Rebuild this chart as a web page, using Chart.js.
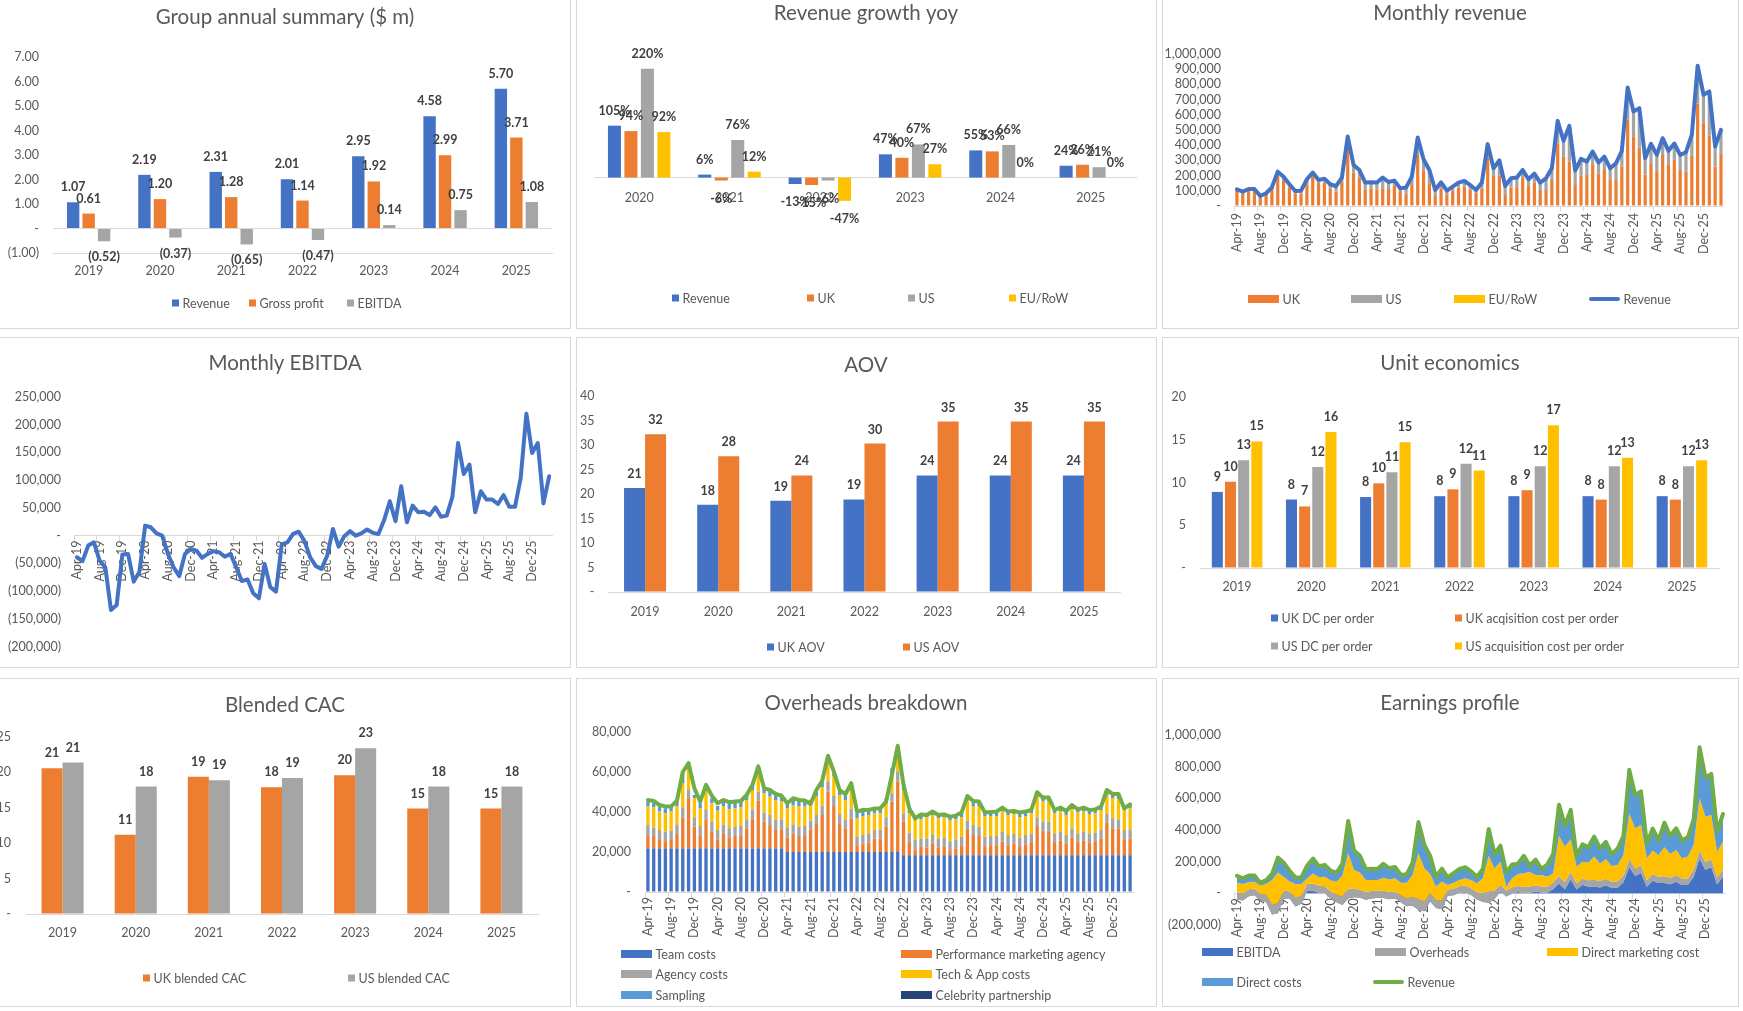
<!DOCTYPE html>
<html>
<head>
<meta charset="utf-8">
<title>Dashboard</title>
<script src="https://cdn.jsdelivr.net/npm/chart.js@4.4.1/dist/chart.umd.min.js"></script>
<style>
  html, body { margin: 0; padding: 0; background: #fff; }
  body { width: 1743px; height: 1011px; position: relative; overflow: hidden; }
  .frame { position: absolute; border: 1px solid #d9d9d9; box-sizing: border-box; }
  canvas { position: absolute; }
</style>
</head>
<body>
<script>
// ---- data ----
const years = ['2019', '2020', '2021', '2022', '2023', '2024', '2025'];
const growthYears = ['2020', '2021', '2022', '2023', '2024', '2025'];

const summaryRevenue = [1.07, 2.19, 2.31, 2.01, 2.95, 4.58, 5.70];
const summaryGross = [0.61, 1.20, 1.28, 1.14, 1.92, 2.99, 3.71];
const summaryEbitda = [-0.52, -0.37, -0.65, -0.47, 0.14, 0.75, 1.08];

const growthRevenue = [105, 6, -13, 47, 55, 24];
const growthUK = [94, -6, -15, 40, 53, 26];
const growthUS = [220, 76, -6, 67, 66, 21];
const growthEU = [92, 12, -47, 27, 0, 0];

const ukAov = [21.2, 17.8, 18.6, 18.9, 23.8, 23.8, 23.8];
const usAov = [32.2, 27.7, 23.8, 30.3, 34.8, 34.8, 34.8];

const ukDcPerOrder = [8.9, 8.0, 8.3, 8.4, 8.4, 8.4, 8.4];
const ukAcqPerOrder = [10.1, 7.2, 9.9, 9.2, 9.1, 8.0, 8.0];
const usDcPerOrder = [12.6, 11.8, 11.2, 12.2, 11.9, 11.9, 11.9];
const usAcqPerOrder = [14.8, 15.9, 14.7, 11.4, 16.7, 12.9, 12.6];

const ukCac = [20.6, 11.2, 19.4, 17.9, 19.6, 14.9, 14.9];
const usCac = [21.4, 18.0, 18.9, 19.2, 23.4, 18.0, 18.0];

const months = [
  'Apr-19','May-19','Jun-19','Jul-19','Aug-19','Sep-19','Oct-19','Nov-19','Dec-19','Jan-20','Feb-20','Mar-20',
  'Apr-20','May-20','Jun-20','Jul-20','Aug-20','Sep-20','Oct-20','Nov-20','Dec-20','Jan-21','Feb-21','Mar-21',
  'Apr-21','May-21','Jun-21','Jul-21','Aug-21','Sep-21','Oct-21','Nov-21','Dec-21','Jan-22','Feb-22','Mar-22',
  'Apr-22','May-22','Jun-22','Jul-22','Aug-22','Sep-22','Oct-22','Nov-22','Dec-22','Jan-23','Feb-23','Mar-23',
  'Apr-23','May-23','Jun-23','Jul-23','Aug-23','Sep-23','Oct-23','Nov-23','Dec-23','Jan-24','Feb-24','Mar-24',
  'Apr-24','May-24','Jun-24','Jul-24','Aug-24','Sep-24','Oct-24','Nov-24','Dec-24','Jan-25','Feb-25','Mar-25',
  'Apr-25','May-25','Jun-25','Jul-25','Aug-25','Sep-25','Oct-25','Nov-25','Dec-25','Jan-26','Feb-26','Mar-26'];

const monthlyRevenue = [
  110000, 95000, 112000, 112000, 66000, 84000, 123000, 226000, 193000, 143000, 99000, 101000,
  176000, 220000, 171000, 180000, 143000, 130000, 187000, 457000, 270000, 237000, 154000, 156000,
  154000, 187000, 158000, 167000, 116000, 121000, 193000, 451000, 308000, 237000, 105000, 156000,
  101000, 127000, 154000, 165000, 138000, 105000, 154000, 407000, 248000, 301000, 132000, 182000,
  187000, 237000, 176000, 213000, 154000, 182000, 248000, 560000, 429000, 527000, 233000, 310000,
  292000, 358000, 286000, 325000, 248000, 281000, 363000, 780000, 622000, 644000, 314000, 409000,
  336000, 446000, 363000, 411000, 336000, 354000, 468000, 923000, 732000, 754000, 391000, 501000];

const revenueUK = [
  101000, 79000, 101000, 101000, 55000, 73000, 110000, 200000, 165000, 121000, 84000, 81000,
  143000, 196000, 154000, 154000, 112000, 95000, 160000, 380000, 220000, 187000, 110000, 116000,
  110000, 116000, 112000, 134000, 101000, 77000, 143000, 336000, 231000, 150000, 66000, 116000,
  73000, 101000, 121000, 127000, 110000, 86000, 116000, 319000, 198000, 198000, 73000, 121000,
  123000, 187000, 132000, 154000, 105000, 105000, 171000, 411000, 323000, 292000, 138000, 198000,
  204000, 275000, 211000, 237000, 176000, 171000, 259000, 567000, 459000, 385000, 207000, 277000,
  231000, 336000, 270000, 303000, 237000, 226000, 330000, 673000, 549000, 462000, 259000, 343000];

const revenueUS = [
  9000, 16000, 11000, 11000, 11000, 11000, 13000, 26000, 28000, 22000, 15000, 20000,
  33000, 24000, 17000, 26000, 31000, 35000, 27000, 77000, 50000, 50000, 44000, 40000,
  44000, 71000, 46000, 33000, 15000, 44000, 50000, 115000, 77000, 87000, 39000, 40000,
  28000, 26000, 33000, 38000, 28000, 19000, 38000, 88000, 50000, 103000, 59000, 61000,
  64000, 50000, 44000, 59000, 49000, 77000, 77000, 149000, 106000, 235000, 95000, 112000,
  88000, 83000, 75000, 88000, 72000, 110000, 104000, 213000, 163000, 259000, 107000, 132000,
  105000, 110000, 93000, 108000, 99000, 128000, 138000, 250000, 183000, 292000, 132000, 158000];

const revenueEU = [
  1000, 1000, 1000, 1000, 1000, 1000, 1000, 2000, 1000, 1000, 1000, 1000,
  1000, 1000, 1000, 1000, 1000, 1000, 1000, 3000, 2000, 1000, 1000, 1000,
  1000, 1000, 1000, 1000, 1000, 1000, 1000, 3000, 2000, 1000, 1000, 1000,
  1000, 1000, 1000, 1000, 1000, 1000, 1000, 1000, 1000, 1000, 1000, 1000,
  1000, 1000, 1000, 1000, 1000, 1000, 1000, 2000, 1000, 1000, 1000, 1000,
  1000, 1000, 1000, 1000, 1000, 1000, 1000, 2000, 1000, 1000, 1000, 1000,
  1000, 1000, 1000, 1000, 1000, 1000, 1000, 2000, 1000, 1000, 1000, 1000];

const monthlyEbitda = [
  -39000, -46000, -18000, -12000, -45000, -57000, -134000, -125000, -34000, -33000, -83000, -65000,
  18000, 15000, 4000, 0, -33000, -57000, -73000, -33000, -24000, -27000, -40000, -33000,
  -28000, -30000, -38000, -33000, -57000, -82000, -79000, -104000, -113000, -51000, -93000, -101000,
  -16000, -12000, 3000, 7000, -10000, -39000, -55000, -60000, -36000, 12000, -20000, -1000,
  8000, 0, 4000, 11000, 5000, 3000, 28000, 62000, 26000, 89000, 24000, 54000,
  42000, 43000, 37000, 51000, 34000, 36000, 70000, 167000, 111000, 128000, 42000, 80000,
  65000, 65000, 57000, 73000, 52000, 52000, 104000, 220000, 149000, 167000, 58000, 107000];

const teamCosts = [
  21800, 21800, 21800, 21800, 21800, 21800, 21800, 21800, 21800, 21800, 21800, 21800,
  21800, 21800, 21800, 21800, 21800, 21800, 21800, 21800, 21800, 21800, 21800, 21800,
  20000, 20000, 20000, 20000, 20000, 20000, 20000, 20000, 20000, 20000, 20000, 20000,
  20000, 20000, 20000, 20000, 20000, 20000, 20000, 20000, 18400, 18400, 18400, 18400,
  18400, 18400, 18400, 18400, 18400, 18400, 18400, 18400, 18400, 18400, 18400, 18400,
  18400, 18400, 18400, 18400, 18400, 18400, 18400, 18400, 18400, 18400, 18400, 18400,
  18400, 18400, 18400, 18400, 18400, 18400, 18400, 18400, 18400, 18400, 18400, 18400];

const perfMarketingAgency = [
  6200, 6200, 4200, 3600, 4200, 7200, 15500, 25100, 10800, 6200, 14500, 8300,
  4500, 7200, 5500, 6200, 6200, 10000, 15000, 23900, 13400, 11700, 9200, 9500,
  7300, 9300, 8000, 8000, 11300, 14000, 18500, 30200, 23000, 14000, 11800, 16800,
  3400, 4300, 4600, 6800, 6800, 12600, 25200, 35200, 16800, 6700, 2900, 4200,
  3900, 5900, 3900, 4200, 2500, 3400, 4500, 12600, 10100, 9600, 4500, 5000,
  5000, 6700, 5000, 5900, 4500, 5500, 6700, 14600, 12200, 11700, 6700, 7200,
  5900, 8900, 6700, 7200, 6200, 6700, 8400, 16200, 13400, 13400, 7600, 8400];

const agencyCosts = [
  5500, 4300, 5000, 4700, 4600, 4800, 5100, 4500, 4700, 5000, 4700, 5100,
  4700, 4800, 4800, 4600, 5000, 4500, 4500, 4500, 4500, 5000, 5000, 5000,
  5000, 4500, 4600, 5000, 4400, 4500, 4500, 5000, 5000, 5000, 4500, 4900,
  4200, 4200, 4400, 4200, 4200, 4700, 4200, 5100, 4100, 4500, 5000, 4200,
  4500, 4200, 4500, 4700, 4500, 4500, 4700, 4700, 5000, 4600, 4700, 4600,
  4600, 5000, 5100, 4700, 4400, 4600, 4200, 4300, 4600, 5100, 4200, 4500,
  4200, 4500, 4200, 4500, 4700, 4500, 4500, 4400, 5000, 4500, 5000, 4500];

const techAppCosts = [
  9200, 10100, 9200, 9200, 9600, 9200, 12000, 10500, 9600, 8900, 9200, 9200,
  9700, 9200, 9200, 9300, 9400, 9700, 9700, 8400, 9700, 9200, 9700, 8900,
  9600, 9700, 10100, 9700, 8000, 9200, 9400, 10100, 9800, 9500, 9700, 9300,
  9200, 9500, 9500, 8300, 8300, 7900, 10000, 7500, 11700, 9700, 9700, 9500,
  10500, 10000, 10000, 10000, 10300, 10000, 9700, 10000, 9500, 10400, 10400, 10000,
  10000, 10100, 10000, 10000, 10000, 9500, 10000, 10400, 10000, 10000, 10000, 10100,
  10000, 9700, 10400, 10100, 9700, 9700, 9700, 9500, 10100, 10100, 10000, 10600];

const samplingCosts = [
  2500, 2000, 2500, 2600, 2200, 2700, 5000, 1700, 1600, 2500, 2500, 2500,
  2300, 2700, 2700, 2800, 2800, 2500, 2600, 3300, 2000, 2500, 2800, 2800,
  2800, 2500, 2500, 2500, 2500, 2500, 2800, 2500, 2500, 2200, 2500, 2600,
  2900, 2200, 2000, 2000, 2000, 1700, 2500, 4200, 2600, 1700, 2000, 2200,
  1200, 1700, 1700, 1700, 1600, 1700, 2000, 2000, 2500, 2200, 1700, 1700,
  2200, 1700, 1700, 1500, 2000, 2200, 1700, 2000, 2500, 2000, 1700, 1700,
  1700, 2000, 1600, 1700, 2000, 2000, 1700, 2200, 1600, 2100, 1400, 1600];

const celebrityPartnership = [
  0, 0, 0, 0, 0, 0, 0, 0, 0, 0, 0, 0,
  0, 0, 0, 0, 0, 0, 0, 0, 0, 0, 0, 0,
  0, 0, 0, 0, 0, 0, 0, 0, 0, 0, 0, 0,
  0, 0, 0, 0, 0, 0, 0, 0, 0, 0, 0, 0,
  0, 0, 0, 0, 0, 0, 0, 0, 0, 0, 0, 0,
  0, 0, 0, 0, 0, 0, 0, 0, 0, 0, 0, 0,
  0, 0, 0, 0, 0, 0, 0, 0, 0, 0, 0, 0];

const overheadTotal = [
  46000, 45500, 43500, 42800, 42800, 45700, 60000, 64400, 51900, 45200, 53600, 48200,
  44400, 46000, 44900, 45200, 45500, 48500, 53600, 62800, 51900, 51000, 49000, 48200,
  44400, 46900, 46000, 45700, 44000, 51000, 55600, 68100, 60300, 51000, 48900, 54400,
  40200, 41000, 41000, 41800, 41800, 45200, 58600, 73100, 53600, 41800, 36800, 38800,
  38500, 40200, 38500, 38800, 37700, 38200, 39800, 48000, 45500, 45200, 39700, 40000,
  40200, 42200, 40200, 40500, 39800, 40200, 41000, 49900, 47200, 47200, 41000, 42200,
  40500, 43500, 41300, 42200, 41000, 41300, 42700, 51000, 49000, 49000, 41800, 43800];

const directMarketing = [
  60000, 60000, 46500, 43000, 50000, 70000, 158000, 192000, 87000, 62000, 88000, 76000,
  33000, 65000, 52000, 60000, 68000, 81000, 131000, 223000, 119000, 107000, 75000, 69000,
  68000, 82000, 80000, 82000, 80000, 98000, 139000, 289000, 211000, 122000, 86000, 121000,
  29000, 38000, 40000, 46000, 52000, 57000, 91000, 223000, 140000, 146000, 25000, 57000,
  76000, 86000, 93000, 66000, 73000, 64000, 58000, 252000, 224000, 207000, 104000, 106000,
  112000, 147000, 112000, 124000, 99000, 103000, 131000, 288000, 253000, 257000, 138000, 147000,
  137000, 183000, 150000, 159000, 128000, 139000, 158000, 329000, 286000, 279000, 163000, 175000];

const directCosts = [
  43000, 36000, 40000, 38000, 18000, 25000, 39000, 95000, 88000, 69000, 40000, 42000,
  81000, 94000, 70000, 75000, 63000, 58000, 75000, 204000, 123000, 106000, 70000, 72000,
  70000, 88000, 70000, 72000, 49000, 54000, 77000, 198000, 150000, 115000, 63000, 82000,
  48000, 60000, 70000, 70000, 54000, 42000, 59000, 171000, 90000, 101000, 90000, 87000,
  65000, 111000, 41000, 97000, 38000, 77000, 122000, 198000, 134000, 186000, 65000, 110000,
  98000, 126000, 97000, 110000, 75000, 102000, 121000, 275000, 211000, 212000, 93000, 140000,
  94000, 155000, 115000, 137000, 115000, 122000, 163000, 323000, 248000, 259000, 128000, 175000];

// ---- styling ----
const BLUE = '#4472C4', ORANGE = '#ED7D31', GRAY = '#A5A5A5', GOLD = '#FFC000';
const LBLUE = '#5B9BD5', GREEN = '#70AD47', NAVY = '#264478';
const TXT = '#595959', LBL = '#404040', AXIS = '#D9D9D9', NONE = 'rgba(0,0,0,0)';
const FONT = 'Lato, "Open Sans", sans-serif';

Chart.defaults.font.family = FONT;
Chart.defaults.font.size = 12.5;
Chart.defaults.color = TXT;

const COLS = [0, 576, 1162], COLW = [570, 580, 576];
const ROWS = [0, 337, 678], ROWH = [328, 330, 328];

function panel(r, c) {
  const f = document.createElement('div');
  f.className = 'frame';
  const l = c === 0 ? -2 : COLS[c], t = r === 0 ? -2 : ROWS[r];
  f.style.left = l + 'px';
  f.style.top = t + 'px';
  f.style.width = (COLS[c] + COLW[c] - l + 1) + 'px';
  f.style.height = (ROWS[r] + ROWH[r] - t + 1) + 'px';
  document.body.appendChild(f);
  const cv = document.createElement('canvas');
  cv.width = COLW[c];
  cv.height = ROWH[r];
  cv.style.left = COLS[c] + 'px';
  cv.style.top = ROWS[r] + 'px';
  document.body.appendChild(cv);
  return cv;
}

// excel-ish number formats
const fmtMoney = v => v === 0 ? '-' : v < 0 ? '(' + Math.abs(v).toFixed(2) + ')' : v.toFixed(2);
const fmtThousands = v => v === 0 ? '-' : v < 0 ? '(' + Math.abs(v).toLocaleString('en-US') + ')' : v.toLocaleString('en-US');
const fmtInt = v => v === 0 ? '-' : String(v);
const fmtRound = v => String(Math.round(v));
const fmtPct = v => Math.round(v) + '%';

// title, legend and value labels drawn on the canvas
function decor(title, titleY, legend, labels) {
  return {
    id: 'decor',
    afterDatasetsDraw(chart) {
      if (!labels) return;
      const ctx = chart.ctx;
      ctx.save();
      ctx.font = 'bold 12.5px ' + FONT;
      ctx.fillStyle = LBL;
      ctx.textAlign = 'center';
      ctx.textBaseline = 'middle';
      chart.data.datasets.forEach((ds, i) => {
        chart.getDatasetMeta(i).data.forEach((el, j) => {
          const v = ds.data[j];
          ctx.fillText(labels.fmt(v), el.x, v < 0 ? el.y + labels.below : el.y - labels.above);
        });
      });
      ctx.restore();
    },
    afterDraw(chart) {
      const ctx = chart.ctx;
      ctx.save();
      ctx.fillStyle = TXT;
      ctx.font = '20.5px ' + FONT;
      ctx.textAlign = 'center';
      ctx.textBaseline = 'middle';
      ctx.fillText(title, chart.width / 2, titleY);
      ctx.font = '12.5px ' + FONT;
      ctx.textAlign = 'left';
      legend.forEach(it => {
        let w = 7;
        if (it.kind === 'line') {
          w = 31;
          ctx.strokeStyle = it.color;
          ctx.lineWidth = 4;
          ctx.lineCap = 'round';
          ctx.beginPath();
          ctx.moveTo(it.x + 2, it.y);
          ctx.lineTo(it.x + w - 2, it.y);
          ctx.stroke();
        } else if (it.kind === 'rect') {
          w = 31;
          ctx.fillStyle = it.color;
          ctx.fillRect(it.x, it.y - 4, w, 8);
        } else {
          ctx.fillStyle = it.color;
          ctx.fillRect(it.x, it.y - 3.5, 7, 7);
        }
        ctx.fillStyle = TXT;
        ctx.fillText(it.text, it.x + w + 3.5, it.y + 0.5);
      });
      ctx.restore();
    }
  };
}

function yLin(o) {
  return {
    display: o.display !== false,
    min: o.min, max: o.max,
    stacked: !!o.stacked,
    afterFit(s) { s.width = o.width; },
    border: { display: false },
    grid: { drawTicks: false, color: c => (o.zero && c.tick && c.tick.value === 0) ? AXIS : NONE },
    ticks: { stepSize: o.step, autoSkip: false, padding: o.pad, callback: o.fmt, color: TXT, font: { size: 12.5 } }
  };
}

function xYears(o) {
  const s = {
    offset: true,
    border: { display: true, color: AXIS },
    grid: { drawOnChartArea: false, drawTicks: false, color: NONE },
    ticks: { padding: o.pad, color: TXT, font: { size: 12.5 } }
  };
  if (o.atZero) s.position = { y: 0 };
  else s.afterFit = sc => { sc.height = o.height; };
  return s;
}

function xMonths(o) {
  const s = {
    offset: true,
    stacked: !!o.stacked,
    z: o.z || 0,
    border: { display: true, color: AXIS },
    grid: { offset: true, drawOnChartArea: false, drawTicks: true, tickLength: 5,
            color: c => c.index % 4 === 0 ? AXIS : NONE },
    ticks: { autoSkip: false, minRotation: 90, maxRotation: 90, padding: o.pad,
             color: TXT, font: { size: 12.5 },
             callback: (v, i) => i % 4 === 0 ? months[i] : '' }
  };
  if (o.atZero) s.position = { y: 0 };
  else s.afterFit = sc => { sc.height = o.height; };
  return s;
}

function opts(padding, scales) {
  return {
    responsive: false, animation: false, devicePixelRatio: 1, events: [],
    layout: { padding },
    plugins: { legend: { display: false }, title: { display: false }, tooltip: { enabled: false } },
    scales
  };
}

function bars(label, data, color, cat, bar, extra) {
  return Object.assign({ type: 'bar', label, data, backgroundColor: color, borderWidth: 0,
    categoryPercentage: cat, barPercentage: bar }, extra || {});
}

// 1. Group annual summary
new Chart(panel(0, 0), {
  type: 'bar',
  data: { labels: years, datasets: [
    bars('Revenue', summaryRevenue, BLUE, 0.652, 0.8),
    bars('Gross profit', summaryGross, ORANGE, 0.652, 0.8),
    bars('EBITDA', summaryEbitda, GRAY, 0.652, 0.8)
  ] },
  options: opts({ left: 0, top: 57, right: 18, bottom: 0 }, {
    x: xYears({ height: 75, pad: 10.5 }),
    y: yLin({ min: -1, max: 7, step: 1, width: 53, pad: 14, fmt: fmtMoney, zero: true })
  }),
  plugins: [decor('Group annual summary ($ m)', 17, [
    { text: 'Revenue', color: BLUE, x: 172, y: 303 },
    { text: 'Gross profit', color: ORANGE, x: 249, y: 303 },
    { text: 'EBITDA', color: GRAY, x: 347, y: 303 }
  ], { fmt: fmtMoney, above: 15, below: 16 })]
});

// 2. Revenue growth yoy
new Chart(panel(0, 1), {
  type: 'bar',
  data: { labels: growthYears, datasets: [
    bars('Revenue', growthRevenue, BLUE, 0.73, 0.79),
    bars('UK', growthUK, ORANGE, 0.73, 0.79),
    bars('US', growthUS, GRAY, 0.73, 0.79),
    bars('EU/RoW', growthEU, GOLD, 0.73, 0.79)
  ] },
  options: opts({ left: 18, top: 54, right: 20, bottom: 101 }, {
    x: xYears({ atZero: true, pad: 12.5 }),
    y: yLin({ display: false, min: -100, max: 250, step: 50, width: 0, pad: 0, fmt: fmtInt })
  }),
  plugins: [decor('Revenue growth yoy', 13, [
    { text: 'Revenue', color: BLUE, x: 96, y: 298 },
    { text: 'UK', color: ORANGE, x: 231, y: 298 },
    { text: 'US', color: GRAY, x: 332, y: 298 },
    { text: 'EU/RoW', color: GOLD, x: 433, y: 298 }
  ], { fmt: fmtPct, above: 15, below: 18 })]
});

// 3. Monthly revenue
new Chart(panel(0, 2), {
  type: 'bar',
  data: { labels: months, datasets: [
    bars('UK', revenueUK, ORANGE, 1, 0.55, { stack: 'split', order: 1 }),
    bars('US', revenueUS, GRAY, 1, 0.55, { stack: 'split', order: 1 }),
    bars('EU/RoW', revenueEU, GOLD, 1, 0.55, { stack: 'split', order: 1 }),
    { type: 'line', label: 'Revenue', data: monthlyRevenue, stack: 'total', order: 0,
      borderColor: BLUE, borderWidth: 4, pointRadius: 0, tension: 0,
      borderJoinStyle: 'round', borderCapStyle: 'round', fill: false }
  ] },
  options: opts({ left: 0, top: 54, right: 4, bottom: 0 }, {
    x: xMonths({ stacked: true, height: 122, pad: 2 }),
    y: yLin({ stacked: true, min: 0, max: 1000000, step: 100000, width: 72, pad: 13, fmt: fmtThousands })
  }),
  plugins: [decor('Monthly revenue', 13, [
    { text: 'UK', color: ORANGE, kind: 'rect', x: 86, y: 299 },
    { text: 'US', color: GRAY, kind: 'rect', x: 189, y: 299 },
    { text: 'EU/RoW', color: GOLD, kind: 'rect', x: 292, y: 299 },
    { text: 'Revenue', color: BLUE, kind: 'line', x: 427, y: 299 }
  ])]
});

// 4. Monthly EBITDA
new Chart(panel(1, 0), {
  type: 'line',
  data: { labels: months, datasets: [
    { label: 'EBITDA', data: monthlyEbitda, borderColor: BLUE, borderWidth: 4, pointRadius: 0,
      tension: 0, borderJoinStyle: 'round', borderCapStyle: 'round', fill: false }
  ] },
  options: opts({ left: 0, top: 60, right: 18, bottom: 18 }, {
    x: xMonths({ atZero: true, pad: 0 }),
    y: yLin({ min: -200000, max: 250000, step: 50000, width: 74, pad: 13, fmt: fmtThousands })
  }),
  plugins: [decor('Monthly EBITDA', 26, [])]
});

// 5. AOV
new Chart(panel(1, 1), {
  type: 'bar',
  data: { labels: years, datasets: [
    bars('UK AOV', ukAov, BLUE, 0.575, 1),
    bars('US AOV', usAov, ORANGE, 0.575, 1)
  ] },
  options: opts({ left: 0, top: 59, right: 35.5, bottom: 0 }, {
    x: xYears({ height: 75, pad: 12.5 }),
    y: yLin({ min: 0, max: 40, step: 5, width: 32.5, pad: 14, fmt: fmtInt })
  }),
  plugins: [decor('AOV', 28, [
    { text: 'UK AOV', color: BLUE, x: 191, y: 310 },
    { text: 'US AOV', color: ORANGE, x: 327, y: 310 }
  ], { fmt: fmtRound, above: 14, below: 14 })]
});

// 6. Unit economics
new Chart(panel(1, 2), {
  type: 'bar',
  data: { labels: years, datasets: [
    bars('UK DC per order', ukDcPerOrder, BLUE, 0.71, 0.84),
    bars('UK acqisition cost per order', ukAcqPerOrder, ORANGE, 0.71, 0.84),
    bars('US DC per order', usDcPerOrder, GRAY, 0.71, 0.84),
    bars('US acquisition cost per order', usAcqPerOrder, GOLD, 0.71, 0.84)
  ] },
  options: opts({ left: 0, top: 60, right: 19, bottom: 0 }, {
    x: xYears({ height: 99, pad: 11.5 }),
    y: yLin({ min: 0, max: 20, step: 5, width: 38, pad: 14, fmt: fmtInt })
  }),
  plugins: [decor('Unit economics', 26, [
    { text: 'UK DC per order', color: BLUE, x: 109, y: 281 },
    { text: 'UK acqisition cost per order', color: ORANGE, x: 293, y: 281 },
    { text: 'US DC per order', color: GRAY, x: 109, y: 309 },
    { text: 'US acquisition cost per order', color: GOLD, x: 293, y: 309 }
  ], { fmt: fmtRound, above: 15, below: 15 })]
});

// 7. Blended CAC
new Chart(panel(2, 0), {
  type: 'bar',
  data: { labels: years, datasets: [
    bars('UK blended CAC', ukCac, ORANGE, 0.575, 1),
    bars('US blended CAC', usCac, GRAY, 0.575, 1)
  ] },
  options: opts({ left: 0, top: 59, right: 32, bottom: 0 }, {
    x: xYears({ height: 92, pad: 11.5 }),
    y: yLin({ min: 0, max: 25, step: 5, width: 26, pad: 15, fmt: fmtInt })
  }),
  plugins: [decor('Blended CAC', 27, [
    { text: 'UK blended CAC', color: ORANGE, x: 143, y: 300 },
    { text: 'US blended CAC', color: GRAY, x: 348, y: 300 }
  ], { fmt: fmtRound, above: 15, below: 15 })]
});

// 8. Overheads breakdown
new Chart(panel(2, 1), {
  type: 'bar',
  data: { labels: months, datasets: [
    bars('Team costs', teamCosts, BLUE, 1, 0.57, { stack: 'oh', order: 1 }),
    bars('Performance marketing agency', perfMarketingAgency, ORANGE, 1, 0.57, { stack: 'oh', order: 1 }),
    bars('Agency costs', agencyCosts, GRAY, 1, 0.57, { stack: 'oh', order: 1 }),
    bars('Tech & App costs', techAppCosts, GOLD, 1, 0.57, { stack: 'oh', order: 1 }),
    bars('Sampling', samplingCosts, LBLUE, 1, 0.57, { stack: 'oh', order: 1 }),
    bars('Celebrity partnership', celebrityPartnership, NAVY, 1, 0.57, { stack: 'oh', order: 1 }),
    { type: 'line', label: 'Total', data: overheadTotal, stack: 'total', order: 0,
      borderColor: GREEN, borderWidth: 4, pointRadius: 0, tension: 0,
      borderJoinStyle: 'round', borderCapStyle: 'round', fill: false }
  ] },
  options: opts({ left: 0, top: 54, right: 23, bottom: 0 }, {
    x: xMonths({ stacked: true, height: 114, pad: 0 }),
    y: yLin({ stacked: true, min: 0, max: 80000, step: 20000, width: 69, pad: 14, fmt: fmtThousands })
  }),
  plugins: [decor('Overheads breakdown', 25, [
    { text: 'Team costs', color: BLUE, kind: 'rect', x: 45, y: 276 },
    { text: 'Performance marketing agency', color: ORANGE, kind: 'rect', x: 325, y: 276 },
    { text: 'Agency costs', color: GRAY, kind: 'rect', x: 45, y: 296 },
    { text: 'Tech & App costs', color: GOLD, kind: 'rect', x: 325, y: 296 },
    { text: 'Sampling', color: LBLUE, kind: 'rect', x: 45, y: 317 },
    { text: 'Celebrity partnership', color: NAVY, kind: 'rect', x: 325, y: 317 }
  ])]
});

// 9. Earnings profile: stacked areas built as running totals
const cumEbitda = monthlyEbitda.slice();
const cumOverheads = cumEbitda.map((v, i) => v + overheadTotal[i]);
const cumMarketing = cumOverheads.map((v, i) => v + directMarketing[i]);
const cumDirect = cumMarketing.map((v, i) => v + directCosts[i]);

function area(label, data, color, fill, order) {
  return { label, data, backgroundColor: color, borderColor: NONE, borderWidth: 0,
    pointRadius: 0, tension: 0, fill, order };
}

new Chart(panel(2, 2), {
  type: 'line',
  data: { labels: months, datasets: [
    area('EBITDA', cumEbitda, BLUE, 'origin', 5),
    area('Overheads', cumOverheads, GRAY, '-1', 4),
    area('Direct marketing cost', cumMarketing, GOLD, '-1', 3),
    area('Direct costs', cumDirect, LBLUE, '-1', 2),
    { label: 'Revenue', data: monthlyRevenue, borderColor: GREEN, borderWidth: 4, pointRadius: 0,
      tension: 0, borderJoinStyle: 'round', borderCapStyle: 'round', fill: false, order: 1 }
  ] },
  options: opts({ left: 0, top: 57, right: 4, bottom: 81 }, {
    x: xMonths({ atZero: true, pad: 0, z: 1 }),
    y: yLin({ min: -200000, max: 1000000, step: 200000, width: 72, pad: 13, fmt: fmtThousands })
  }),
  plugins: [decor('Earnings profile', 25, [
    { text: 'EBITDA', color: BLUE, kind: 'rect', x: 40, y: 274 },
    { text: 'Overheads', color: GRAY, kind: 'rect', x: 213, y: 274 },
    { text: 'Direct marketing cost', color: GOLD, kind: 'rect', x: 385, y: 274 },
    { text: 'Direct costs', color: LBLUE, kind: 'rect', x: 40, y: 304 },
    { text: 'Revenue', color: GREEN, kind: 'line', x: 211, y: 304 }
  ])]
});
</script>
</body>
</html>
